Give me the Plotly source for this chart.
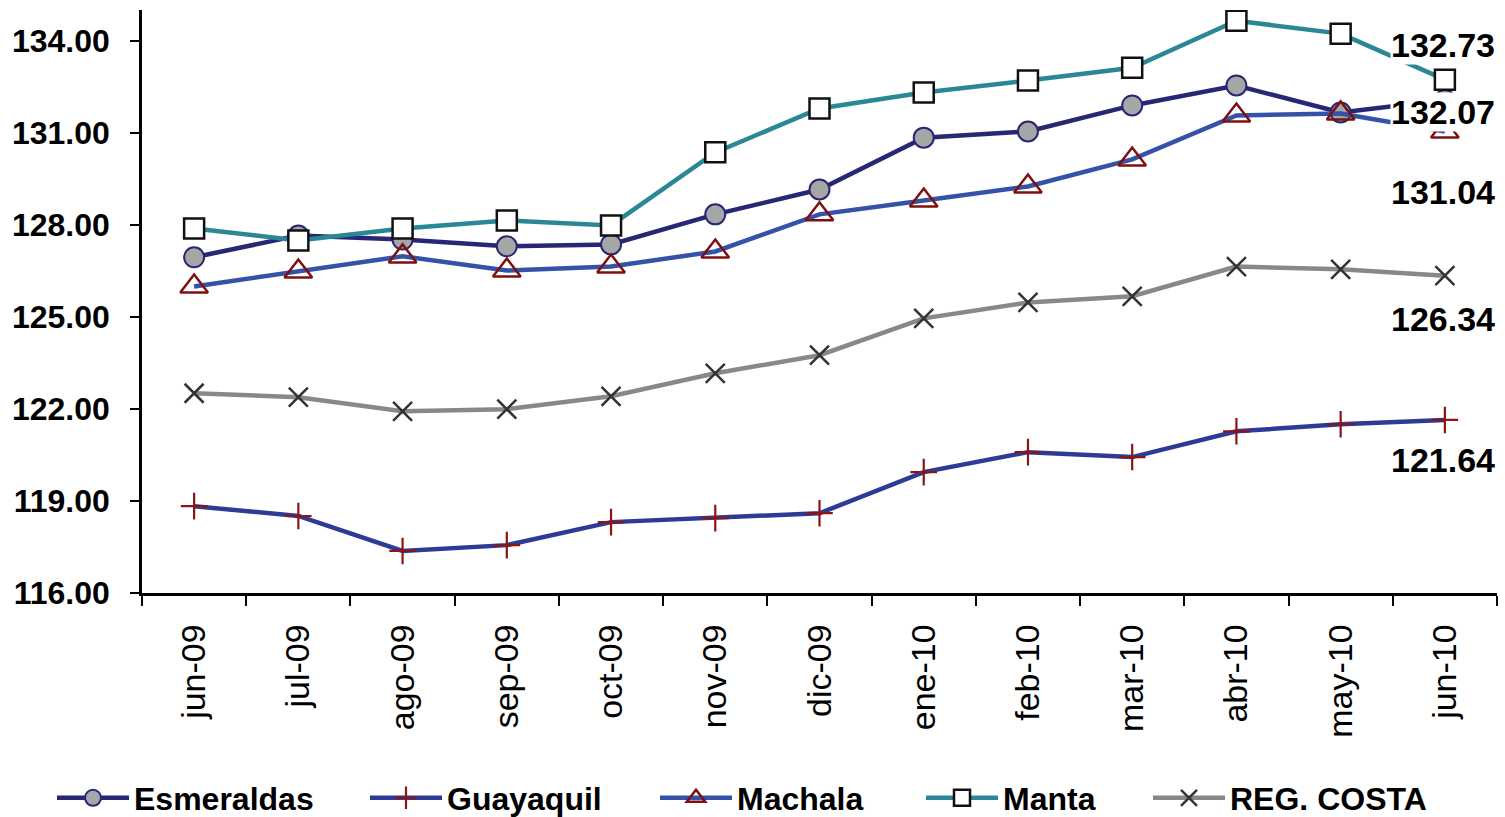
import plotly.graph_objects as go

months = ["jun-09", "jul-09", "ago-09", "sep-09", "oct-09", "nov-09", "dic-09",
          "ene-10", "feb-10", "mar-10", "abr-10", "may-10", "jun-10"]

esmeraldas = [126.94, 127.65, 127.52, 127.30, 127.36, 128.34, 129.15,
              130.84, 131.04, 131.89, 132.54, 131.66, 132.07]
guayaquil = [118.83, 118.51, 117.37, 117.56, 118.31, 118.44, 118.60,
             119.94, 120.59, 120.43, 121.27, 121.50, 121.64]
machala = [125.99, 126.48, 126.97, 126.51, 126.64, 127.13, 128.34,
           128.79, 129.25, 130.13, 131.56, 131.63, 131.04]
manta = [127.88, 127.49, 127.88, 128.14, 127.98, 130.36, 131.79,
         132.31, 132.70, 133.12, 134.65, 134.23, 132.73]
reg_costa = [122.51, 122.38, 121.92, 121.99, 122.41, 123.16, 123.75,
             124.95, 125.47, 125.67, 126.64, 126.55, 126.34]

series_names = ["Esmeraldas", "Guayaquil", "Machala", "Manta", "REG. COSTA"]
series_values = [esmeraldas, guayaquil, machala, manta, reg_costa]

FONT = "Liberation Sans, Arial, sans-serif"

styles = [
    dict(line=dict(color="#272775", width=4.5),
         marker=dict(symbol="circle", size=20, color="#a6a6a6",
                     line=dict(color="#272775", width=2))),
    dict(line=dict(color="#2e3a96", width=4.5),
         marker=dict(symbol="cross-thin", size=19, color="#8b1414",
                     line=dict(color="#8b1414", width=2.2))),
    dict(line=dict(color="#3452a8", width=4.5),
         marker=dict(symbol="triangle-up-open", size=24, color="#7f1010",
                     line=dict(color="#7f1010", width=2.5))),
    dict(line=dict(color="#2a8796", width=4.5),
         marker=dict(symbol="square", size=20, color="white",
                     line=dict(color="#111111", width=2.5))),
    dict(line=dict(color="#888888", width=4.5),
         marker=dict(symbol="x-thin", size=19, color="#333333",
                     line=dict(color="#333333", width=2.5))),
]

legend_keys = ["legend", "legend2", "legend3", "legend4", "legend5"]
legend_left_px = [52, 365, 655, 921, 1148]

fig = go.Figure()
for name, vals, st, lk in zip(series_names, series_values, styles, legend_keys):
    fig.add_trace(go.Scatter(x=months, y=vals, name=name, mode="lines+markers",
                             line=st["line"], marker=st["marker"], legend=lk))

# labels on last points (white boxes drawn above the lines)
label_shifts = [-12, -40, -60, 35, -43]
for vals, ys in zip(series_values, label_shifts):
    fig.add_annotation(x=months[-1], y=vals[-1], text=f"{vals[-1]:.2f}",
                       showarrow=False, xshift=-2, yshift=ys,
                       bgcolor="white", borderpad=0,
                       font=dict(family=FONT, size=34, color="black", weight="bold"))

legend_common = dict(orientation="h", xref="container", yref="container",
                     yanchor="middle", xanchor="left", y=1 - 798 / 817,
                     itemwidth=72, bgcolor="rgba(0,0,0,0)",
                     font=dict(family=FONT, size=32, color="black", weight="bold"))
layout_legends = {}
for lk, px in zip(legend_keys, legend_left_px):
    layout_legends[lk] = dict(x=px / 1505, **legend_common)

fig.update_layout(
    width=1505, height=817,
    margin=dict(l=142, r=8, t=10, b=224),
    paper_bgcolor="white", plot_bgcolor="white",
    showlegend=True,
    font=dict(family=FONT, color="black"),
    xaxis=dict(type="category", range=[-0.5, 12.5], tickson="boundaries",
               ticks="outside", ticklen=10, tickwidth=2, tickcolor="black",
               showline=True, linecolor="black", linewidth=2.5,
               showgrid=False, zeroline=False, tickangle=-90,
               ticklabelstandoff=15,
               tickfont=dict(family=FONT, size=34, color="black")),
    yaxis=dict(range=[116, 135], tick0=116, dtick=3, tickformat=".2f",
               ticks="outside", ticklen=9, tickwidth=2, tickcolor="black",
               showline=True, linecolor="black", linewidth=2.5,
               showgrid=False, zeroline=False, ticklabelstandoff=14,
               tickfont=dict(family=FONT, size=32, color="black", weight="bold")),
    **layout_legends,
)

fig.write_html("out.html", config={"displayModeBar": False},
               post_script="document.body.style.margin='0px';document.body.style.overflow='hidden';")
